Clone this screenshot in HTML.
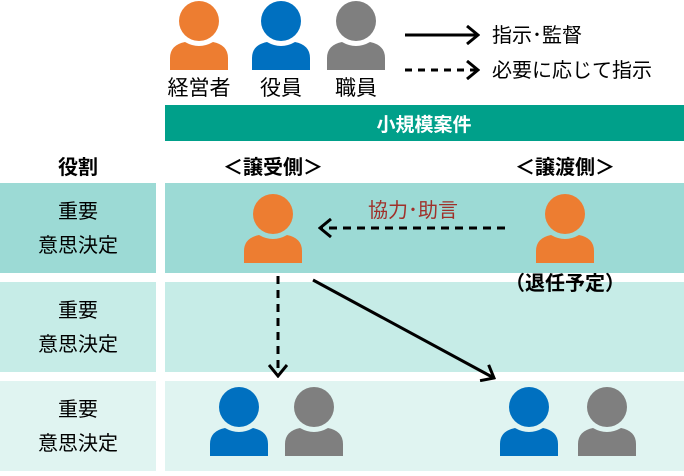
<!DOCTYPE html>
<html><head><meta charset="utf-8"><style>
body{margin:0;width:684px;height:471px;overflow:hidden;background:#fff;font-family:"Liberation Sans","Noto Sans CJK JP",sans-serif}
</style></head><body>
<svg width="684" height="471" viewBox="0 0 684 471" xmlns="http://www.w3.org/2000/svg" font-family="Liberation Sans, Noto Sans CJK JP, sans-serif">
<defs>
<g id="p"><circle cx="29" cy="21" r="20"/><path d="M0,70 L0,58 Q0,45 15,42 Q29,50 43,42 Q58,45 58,58 L58,70 Z"/></g>
<marker id="ah" viewBox="0 0 14 20" refX="12" refY="10" markerWidth="14" markerHeight="20" markerUnits="userSpaceOnUse" orient="auto"><path d="M1,1 L12,10 L1,19" fill="none" stroke="#000" stroke-width="3"/></marker>
</defs>
<use href="#p" x="170" y="0" fill="#ed7d31"/>
<use href="#p" x="252" y="0" fill="#0070c0"/>
<use href="#p" x="327" y="0" fill="#7f7f7f"/>
<g font-size="21" fill="#000" text-anchor="middle">
<text x="199" y="95">経営者</text><text x="281" y="95">役員</text><text x="356" y="95">職員</text></g>
<line x1="405" y1="35" x2="478" y2="35" stroke="#000" stroke-width="3" marker-end="url(#ah)"/>
<line x1="405" y1="70" x2="478" y2="70" stroke="#000" stroke-width="3" stroke-dasharray="7,6" marker-end="url(#ah)"/>
<g font-size="20"><text x="492" y="42">指示･監督</text><text x="492" y="77">必要に応じて指示</text></g>
<rect x="165" y="105" width="519" height="36" fill="#00a08a"/>
<text x="424" y="131" font-size="19" font-weight="bold" fill="#fff" text-anchor="middle">小規模案件</text>
<g font-size="20" font-weight="bold" text-anchor="middle">
<text x="78" y="174">役割</text><text x="273" y="174">＜譲受側＞</text><text x="565" y="174">＜譲渡側＞</text></g>
<rect x="0" y="183" width="156" height="90" fill="#9cdad5"/><rect x="165" y="183" width="519" height="90" fill="#9cdad5"/>
<rect x="0" y="282" width="156" height="90" fill="#c6ece7"/><rect x="165" y="282" width="519" height="90" fill="#c6ece7"/>
<rect x="0" y="381" width="156" height="90" fill="#e0f4f1"/><rect x="165" y="381" width="519" height="90" fill="#e0f4f1"/>
<g font-size="20" text-anchor="middle">
<text x="78" y="218">重要</text><text x="78" y="252">意思決定</text>
<text x="78" y="317">重要</text><text x="78" y="351">意思決定</text>
<text x="78" y="416">重要</text><text x="78" y="450">意思決定</text></g>
<use href="#p" x="244" y="193" fill="#ed7d31"/>
<use href="#p" x="536" y="193" fill="#ed7d31"/>
<text x="565" y="290" font-size="20" font-weight="bold" text-anchor="middle">（退任予定）</text>
<text x="413" y="217" font-size="20" fill="#a0302a" text-anchor="middle">協力･助言</text>
<line x1="505" y1="228" x2="320" y2="228" stroke="#000" stroke-width="3" stroke-dasharray="8,6" marker-end="url(#ah)"/>
<line x1="278" y1="276" x2="278" y2="376" stroke="#000" stroke-width="3" stroke-dasharray="8,6" marker-end="url(#ah)"/>
<line x1="313" y1="280" x2="494" y2="378" stroke="#000" stroke-width="3" marker-end="url(#ah)"/>
<use href="#p" x="210" y="386" fill="#0070c0"/>
<use href="#p" x="285" y="386" fill="#7f7f7f"/>
<use href="#p" x="500" y="386" fill="#0070c0"/>
<use href="#p" x="578" y="386" fill="#7f7f7f"/>
</svg>
</body></html>
